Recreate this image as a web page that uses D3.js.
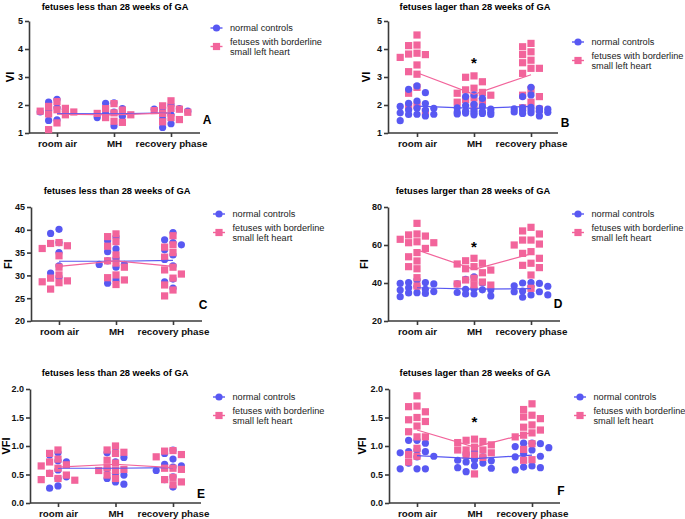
<!DOCTYPE html>
<html><head><meta charset="utf-8">
<script src="https://cdn.jsdelivr.net/npm/d3@7/dist/d3.min.js"></script>
<style>body{margin:0;background:#fff}svg{display:block}text{font-family:"Liberation Sans",Arial,sans-serif}</style>
</head><body><svg id="c" width="685" height="519"></svg>
<script>
const categories = ["room air", "MH", "recovery phase"];
const seriesNames = ["normal controls", "fetuses with borderline\nsmall left heart"];

// Panel A – VI, < 28 weeks
const normA = [[2.2,2.1,1.9,1.75,1.85,1.47,1.45,1.8],[2.06,2.08,1.87,1.25,1.55,1.7,1.6,1.75],[2.0,1.85,1.87,1.2,1.33,1.5,1.78,1.9,1.65]];
const bslhA = [[1.88,1.78,1.65,2.12,1.83,1.68,1.12,1.36,1.95,1.75],[1.87,2.05,1.82,1.65,1.42,1.38,1.55,1.72,1.7],[2.15,1.97,1.88,1.74,1.7,1.55,1.48,1.85,1.4,1.8]];
const normMeanA = [1.69,1.68,1.72], bslhMeanA = [1.67,1.65,1.72];
// Panel B – VI, > 28 weeks
const normB = [[2.68,2.44,2.56,2.14,2.06,2.05,1.88,1.95,1.88,1.67,1.67,1.61,1.44,1.82,1.66,1.82,1.72],[2.24,2.3,2.36,1.95,1.98,1.9,2.02,1.71,1.72,1.68,1.75,1.65,1.7,1.8,1.78,1.74,1.76,1.85,1.66],[2.63,2.3,2.36,1.9,1.85,1.88,1.8,1.78,1.75,1.82,1.7,1.61,1.92,1.86,1.74,1.72]];
const bslhB = [[4.5,4.12,4.14,3.85,3.82,3.7,3.8,3.43,3.19,3.1,2.42,2.63,2.0,1.75,1.95],[2.99,3.04,2.83,2.54,2.6,2.42,2.45,2.12,1.96,2.2,2.25,2.1,2.35],[4.2,3.8,3.9,4.08,3.51,3.6,3.31,3.31,3.13,2.3,2.55,2.35,2.1,1.85,1.9]];
const normMeanB = [1.96,1.88,1.95], bslhMeanB = [3.15,2.38,3.08];
// Panel C – FI, < 28 weeks
const normC = [[40.1,39.2,37.2,35.0,32.1,30.5,29.6],[38.4,37.6,35.2,35.8,33.7,33.2,32.4,31.8,32.4,29.0,28.3],[39.4,37.8,37.2,36.7,35.6,34.5,33.5,32.1,29.2,28.6,27.2]];
const bslhC = [[37.2,35.9,36.5,34.3,37.0,31.8,30.1,28.6,29.4,28.8,28.4,27.0],[38.5,39.1,37.4,36.4,34.5,32.7,33.2,31.8,29.5,30.1,28.0,29.0],[38.7,36.2,36.7,35.0,34.0,31.8,31.2,30.3,29.4,27.9,26.8,25.5]];
const normMeanC = [33.1,33.1,33.3], bslhMeanC = [32.0,33.2,32.0];
// Panel D – FI, > 28 weeks
const normD = [[41.6,39.8,39.5,40.2,40.2,36.7,37.5,38.1,36.3,34.9,35.5,34.8,32.8,34.5],[43.3,41.9,40.0,39.5,36.7,36.5,37.0,36.4,34.2,33.2,34.2,35.0],[40.2,40.0,39.8,38.1,38.5,38.3,35.4,35.8,35.4,33.7,32.5,33.7]];
const bslhD = [[71.4,65.3,64.7,65.8,63.0,61.2,61.7,61.2,58.2,56.0,53.8,51.6,47.5,48.6,42.8,38.4],[53.0,51.7,50.4,50.0,48.6,47.5,46.8,45.4,41.6,42.5,40.5,38.9,39.5,38.9],[69.3,67.4,65.8,62.6,62.6,60.0,60.5,56.5,55.6,53.0,50.4,49.3,48.1,44.2,37.2]];
const normMeanD = [37.5,36.8,37.0], bslhMeanD = [57.4,47.2,55.3];
// Panel E – VFI, < 28 weeks
const normE = [[0.88,0.74,0.58,0.46,0.84,0.43,0.26,0.72,0.52,0.30],[0.88,0.80,0.43,0.90,0.49,0.33,0.52,0.72,0.37,0.6],[0.87,0.65,0.57,0.63,0.46,0.28,0.93,0.77,0.68,0.41]];
const bslhE = [[0.72,0.65,0.43,0.52,0.87,0.77,0.61,0.49,0.40,0.93,0.67,0.41],[1.0,0.87,0.93,0.75,0.89,0.70,0.57,0.59,0.57,0.62,0.43,0.49],[0.91,0.81,0.92,0.85,0.61,0.59,0.61,0.41,0.45,0.37,0.32]];
const normMeanE = [0.61,0.61,0.62], bslhMeanE = [0.63,0.68,0.62];
// Panel F – VFI, > 28 weeks
const normF = [[1.10,1.10,1.05,0.90,0.88,0.93,0.90,0.82,0.81,0.70,0.60,0.60,0.60],[0.81,0.90,0.85,0.74,0.72,0.75,0.65,0.61,0.62,0.55,0.76,0.70],[1.04,1.05,1.05,0.99,0.97,0.93,0.82,0.81,0.87,0.65,0.58,0.63,0.62]];
const bslhF = [[1.88,1.70,1.69,1.60,1.50,1.43,1.46,1.35,1.25,1.16,1.16,0.96,0.85,0.82,0.72],[1.12,1.10,1.08,1.06,1.02,0.98,0.93,0.93,0.93,0.84,0.88,0.80,0.84,0.51],[1.74,1.64,1.48,1.54,1.51,1.37,1.33,1.28,1.23,1.16,1.19,1.04,0.94,0.75,0.76]];
const normMeanF = [0.83,0.78,0.84], bslhMeanF = [1.28,0.98,1.24];

const titles = ["fetuses less than 28 weeks of GA","fetuses lager than 28 weeks of GA","fetuses less than 28 weeks of GA","fetuses larger than 28 weeks of GA","fetuses less than 28 weeks of GA","fetuses lager than 28 weeks of GA"];
const yLabels = ["VI","VI","FI","FI","VFI","VFI"];
const panelLetters = ["A","B","C","D","E","F"];
const yTicksVI = [1,2,3,4,5], yTicksFIa = [20,25,30,35,40,45], yTicksFIb = [20,40,60,80], yTicksVFI = [0,0.5,1,1.5,2];
const sigIndex = [null,1,null,1,null,1]; // "*" above MH

const BLUE = "#5858f2", PINK = "#f2649b", AX = "#3a3a3a";

const panels = [
 {norm:normA,bslh:bslhA,nm:normMeanA,bm:bslhMeanA,dom:[1,5],ticks:yTicksVI,fmt:d3.format("d"),
  x0:29,x1:200,yT:21,yB:133,c0:57,c1:171,tx:115,ty:10,ylx:10,lx:216.5,ly:28,letX:207,letY:124,blueTop:false},
 {norm:normB,bslh:bslhB,nm:normMeanB,bm:bslhMeanB,dom:[1,5],ticks:yTicksVI,fmt:d3.format("d"),
  x0:388,x1:558,yT:21,yB:133,c0:417,c1:531,tx:475,ty:10,ylx:366,lx:578,ly:42,letX:565,letY:127,blueTop:true,starY:68},
 {norm:normC,bslh:bslhC,nm:normMeanC,bm:bslhMeanC,dom:[20,45],ticks:yTicksFIa,fmt:d3.format("d"),
  x0:31,x1:202,yT:207,yB:321,c0:59,c1:173,tx:117,ty:194,ylx:8,lx:219,ly:214,letX:203,letY:309,blueTop:false},
 {norm:normD,bslh:bslhD,nm:normMeanD,bm:bslhMeanD,dom:[20,80],ticks:yTicksFIb,fmt:d3.format("d"),
  x0:388,x1:560,yT:207,yB:321,c0:417,c1:531,tx:473,ty:194,ylx:364,lx:578,ly:214,letX:558,letY:308,blueTop:false,starY:252},
 {norm:normE,bslh:bslhE,nm:normMeanE,bm:bslhMeanE,dom:[0,2],ticks:yTicksVFI,fmt:d3.format(".1f"),
  x0:30,x1:201,yT:389,yB:503,c0:58,c1:173,tx:115,ty:376,ylx:6,lx:219,ly:397,letX:201,letY:498,blueTop:false},
 {norm:normF,bslh:bslhF,nm:normMeanF,bm:bslhMeanF,dom:[0,2],ticks:yTicksVFI,fmt:d3.format(".1f"),
  x0:389,x1:560,yT:389,yB:503,c0:417,c1:532,tx:475,ty:376,ylx:362,lx:580,ly:397,letX:561,letY:495,blueTop:false,starY:427}
];

const svg = d3.select("#c");

// capped beeswarm: at most 5 columns, overlap allowed when crowded
function swarm(vals, y, cx){
  const step = 8.4, minD = 7.4;
  const offs = [0,-1,1,-2,2].map(k=>k*step);
  const pts = vals.map(v=>({v, py:y(v)})).sort((a,b)=>a.py-b.py);
  const placed = [];
  pts.forEach(p=>{
    let best = null, bestD = -1;
    for(const off of offs){
      const d = placed.length ? d3.min(placed, q=>Math.hypot(q.px-(cx+off), q.py-p.py)) : Infinity;
      if(d>=minD){best=off;break;}
      if(d>bestD){bestD=d;best=off;}
    }
    p.px = cx+best; placed.push(p);
  });
  return placed;
}

panels.forEach((P,i)=>{
  const g = svg.append("g");
  const y = d3.scaleLinear().domain(P.dom).range([P.yB,P.yT]);
  const x = d3.scalePoint().domain(categories).range([P.c0,P.c1]);

  const ya = d3.axisLeft(y).tickValues(P.ticks).tickFormat(P.fmt).tickSize(4).tickSizeOuter(0);
  const yg = g.append("g").attr("transform",`translate(${P.x0},0)`).call(ya);
  const xa = d3.axisBottom(x).tickSize(4).tickSizeOuter(0);
  const xg = g.append("g").attr("transform",`translate(0,${P.yB})`).call(xa);
  xg.select(".domain").attr("d",`M${P.x0},0H${P.x1}`);
  [yg,xg].forEach(a=>{a.selectAll("path,line").attr("stroke",AX).attr("stroke-width",1.6);});
  yg.selectAll("text").attr("font-size",9).attr("font-weight","bold").attr("fill","#111").attr("x",-6);
  xg.selectAll("text").attr("font-size",9.8).attr("font-weight","bold").attr("fill","#111").attr("y",7);

  g.append("text").attr("x",P.tx).attr("y",P.ty).attr("text-anchor","middle").attr("font-size",9.3).attr("font-weight","bold").text(titles[i]);
  g.append("text").attr("transform",`translate(${P.ylx},${(P.yT+P.yB)/2}) rotate(-90)`).attr("text-anchor","middle").attr("dy","0.35em").attr("font-size",11).attr("font-weight","bold").text(yLabels[i]);
  g.append("text").attr("x",P.letX).attr("y",P.letY).attr("text-anchor","middle").attr("font-size",12).attr("font-weight","bold").text(panelLetters[i]);

  const drawNorm = ()=>{
    P.norm.forEach((vals,ci)=>{
      g.append("g").selectAll("circle").data(swarm(vals,y,x(categories[ci]))).join("circle")
        .attr("cx",d=>d.px).attr("cy",d=>d.py).attr("r",3.6).attr("fill",BLUE);
    });
  };
  const drawBslh = ()=>{
    P.bslh.forEach((vals,ci)=>{
      g.append("g").selectAll("rect").data(swarm(vals,y,x(categories[ci]))).join("rect")
        .attr("x",d=>d.px-3.6).attr("y",d=>d.py-3.6).attr("width",7.2).attr("height",7.2).attr("fill",PINK);
    });
  };
  if(P.blueTop){drawBslh();drawNorm();}else{drawNorm();drawBslh();}

  const line = d3.line().x((d,j)=>x(categories[j])).y(d=>y(d));
  g.append("path").attr("d",line(P.nm)).attr("fill","none").attr("stroke",BLUE).attr("stroke-width",1.2);
  g.append("path").attr("d",line(P.bm)).attr("fill","none").attr("stroke",PINK).attr("stroke-width",1.2);

  if(sigIndex[i]!==null){
    g.append("text").attr("x",x(categories[sigIndex[i]])).attr("y",P.starY).attr("text-anchor","middle").attr("font-size",15).attr("font-weight","bold").text("*");
  }

  const L = g.append("g").attr("transform",`translate(${P.lx},${P.ly})`);
  L.append("line").attr("x1",-6).attr("x2",6).attr("stroke",BLUE).attr("stroke-width",1.4);
  L.append("circle").attr("r",3.6).attr("fill",BLUE);
  L.append("text").attr("x",13.5).attr("dy","0.35em").attr("font-size",9.2).attr("fill","#222").text(seriesNames[0]);
  const l2 = L.append("g").attr("transform","translate(0,18.5)");
  l2.append("line").attr("x1",-6).attr("x2",6).attr("stroke",PINK).attr("stroke-width",1.4);
  l2.append("rect").attr("x",-3.6).attr("y",-3.6).attr("width",7.2).attr("height",7.2).attr("fill",PINK);
  const lines = seriesNames[1].split("\n");
  l2.append("text").attr("x",13.5).attr("y",-5).attr("dy","0.35em").attr("font-size",9.2).attr("fill","#222").text(lines[0]);
  l2.append("text").attr("x",13.5).attr("y",5.5).attr("dy","0.35em").attr("font-size",9.2).attr("fill","#222").text(lines[1]);
});
</script></body></html>
